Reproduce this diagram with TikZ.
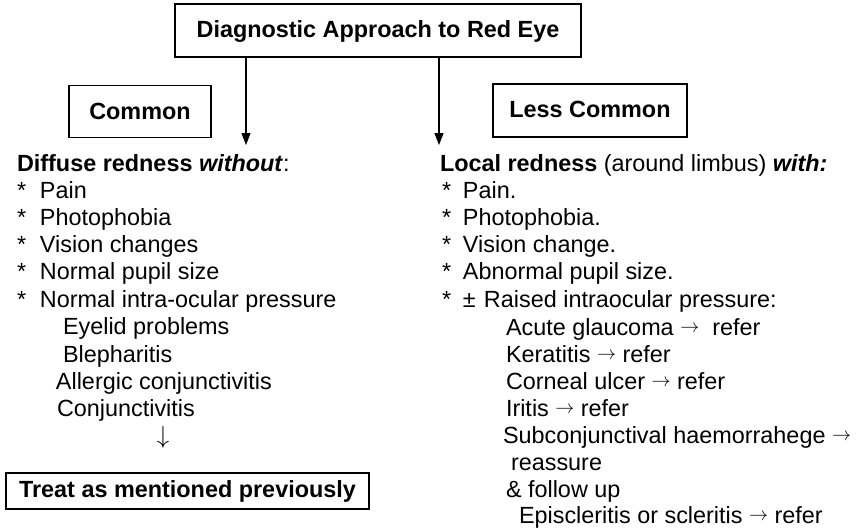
\documentclass[tikz,border=0pt]{standalone}
\usepackage{fontspec}
\setmainfont{Liberation Sans}
\usetikzlibrary{arrows.meta}
% thin text arrows
\newcommand{\toarr}{\raisebox{2.2pt}{\resizebox{19pt}{!}{$\rightarrow$}}}
\newcommand{\downarr}{\resizebox*{!}{22pt}{$\downarrow$}}
\begin{document}
\begin{tikzpicture}[x=1pt,y=-1pt,
  every node/.style={inner sep=0pt,outer sep=0pt,font=\fontsize{23.4}{27}\selectfont},
  txt/.style={anchor=base west},
  boxed/.style={draw,line width=1.4pt,font=\fontsize{23.4}{27}\selectfont\bfseries},
  link/.style={line width=1.3pt,-{Triangle[length=12pt,width=9pt]}}]
\useasboundingbox (0,0) rectangle (863,531);

% heading and category boxes
\node[boxed,minimum width=406pt,minimum height=53pt,text height=16.8pt,text depth=3.8pt] (title) at (378,30.5) {Diagnostic Approach to Red Eye};
\node[boxed,minimum width=142pt,minimum height=52pt,text height=16.8pt,text depth=1.8pt] (common) at (140,111.5) {Common};
\node[boxed,minimum width=194pt,minimum height=53pt,text height=16.8pt,text depth=3.8pt] (lesscommon) at (590,110.5) {Less Common};

% arrow ends above the two columns
\coordinate (lend) at (246,145);
\coordinate (rend) at (439,145);
\draw[link] (title.south -| lend) -- (lend);
\draw[link] (title.south -| rend) -- (rend);

% left column
\node[txt] (lhead) at (17,171) {\textbf{Diffuse redness \textit{without}}:};
\node[txt] (l1) at (17,198) {\makebox[23pt][l]{*}Pain};
\node[txt] (l2) at (17,225) {\makebox[23pt][l]{*}Photophobia};
\node[txt] (l3) at (17,252) {\makebox[23pt][l]{*}Vision changes};
\node[txt] (l4) at (17,279) {\makebox[23pt][l]{*}Normal pupil size};
\node[txt] (l5) at (17,307) {\makebox[23pt][l]{*}Normal intra-ocular pressure};
\node[txt] (l6) at (63,334) {Eyelid problems};
\node[txt] (l7) at (63,362) {Blepharitis};
\node[txt] (l8) at (56,389) {Allergic conjunctivitis};
\node[txt] (l9) at (57,416) {Conjunctivitis};
\node (ldown) at (163,437.5) {\downarr};
\node[boxed,minimum width=363pt,minimum height=36pt,text height=16.8pt,text depth=4.8pt] (treat) at (187.5,491) {Treat as mentioned previously};

% right column
\node[txt] (rhead) at (440,171) {\textbf{Local redness} (around limbus) \textbf{\textit{with:}}};
\node[txt] (r1) at (442,198) {\makebox[21pt][l]{*}Pain.};
\node[txt] (r2) at (442,225) {\makebox[21pt][l]{*}Photophobia.};
\node[txt] (r3) at (442,252) {\makebox[21pt][l]{*}Vision change.};
\node[txt] (r4) at (442,279) {\makebox[21pt][l]{*}Abnormal pupil size.};
\node[txt] (r5) at (442,307) {\makebox[21pt][l]{*}\makebox[21pt][l]{±}Raised intraocular pressure:};
\node[txt] (r6) at (506,335) {Acute glaucoma \toarr\ \ refer};
\node[txt] (r7) at (506,362) {Keratitis \toarr\ refer};
\node[txt] (r8) at (506,389) {Corneal ulcer \toarr\ refer};
\node[txt] (r9) at (506,416) {Iritis \toarr\ refer};
\node[txt] (r10) at (503,443) {Subconjunctival haemorrahege \toarr};
\node[txt] (r11) at (511,470) {reassure};
\node[txt] (r12) at (506,497) {\& follow up};
\node[txt] (r13) at (519,523) {Episcleritis or scleritis \toarr\ refer};
\end{tikzpicture}
\end{document}
